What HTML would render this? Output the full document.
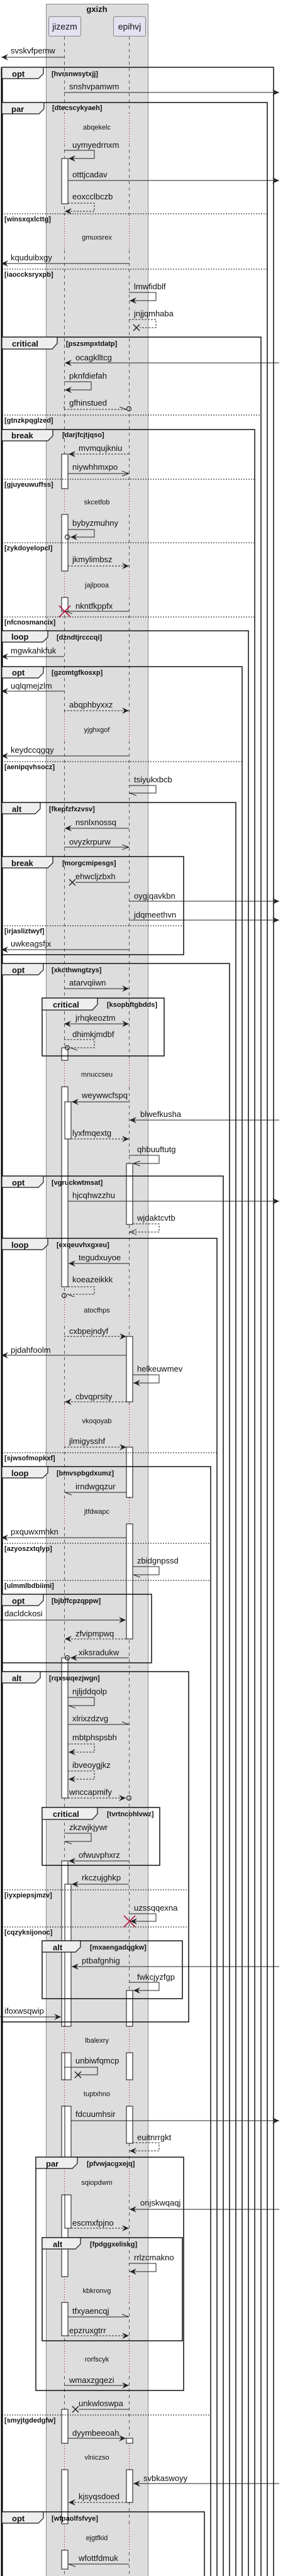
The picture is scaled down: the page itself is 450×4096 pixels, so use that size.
<!DOCTYPE html>
<html><head><meta charset="utf-8"><style>
html,body{margin:0;padding:0;background:#fff}
svg{display:block}
.m{font:13px "Liberation Sans",sans-serif;fill:#111}
.n{font:11px "Liberation Sans",sans-serif;fill:#111;text-anchor:middle}
.c{font:bold 11px "Liberation Sans",sans-serif;fill:#111}
.t{font:bold 13px "Liberation Sans",sans-serif;fill:#111}
.l{stroke:#222;stroke-width:1;fill:none}
.d{stroke:#222;stroke-width:1;fill:none;stroke-dasharray:3,2}
.f{fill:none;stroke:#111;stroke-width:1.5}
.s{stroke:#111;stroke-width:1;stroke-dasharray:2,2}
.tab{fill:#eee;stroke:#111;stroke-width:1.2}
.b{fill:#fff;stroke:#111;stroke-width:1}
</style></head><body>
<svg width="450" height="4096" viewBox="0 0 450 4096" xmlns="http://www.w3.org/2000/svg">
<defs>
<marker id="a" viewBox="0 0 12 10" refX="11" refY="5" markerWidth="12" markerHeight="10" orient="auto-start-reverse" markerUnits="userSpaceOnUse"><path d="M0,0 L11,5 L0,10 L4,5 Z" fill="#222"/></marker>
<marker id="o" viewBox="0 0 12 10" refX="11" refY="5" markerWidth="12" markerHeight="10" orient="auto" markerUnits="userSpaceOnUse"><path d="M0,1 L11,5 L0,9" fill="none" stroke="#222"/></marker>
<marker id="h" viewBox="0 0 12 10" refX="11" refY="5" markerWidth="12" markerHeight="10" orient="auto" markerUnits="userSpaceOnUse"><path d="M0,1 L11,5" fill="none" stroke="#222"/></marker>
</defs>
<!-- box -->
<rect x="73.5" y="6.5" width="162" height="4095" fill="#ddd" stroke="#888"/>
<text x="154" y="19" class="t" text-anchor="middle">gxizh</text>
<rect x="77.5" y="26.5" width="51" height="31" rx="2" fill="#e2e2f0" stroke="#888"/>
<text x="103" y="47" class="m" text-anchor="middle" style="font-size:14px">jizezm</text>
<rect x="180.5" y="26.5" width="51" height="31" rx="2" fill="#e2e2f0" stroke="#888"/>
<text x="206" y="47" class="m" text-anchor="middle" style="font-size:14px">epihvj</text>
<!-- lifelines -->
<line x1="102.5" y1="58" x2="102.5" y2="4096" stroke="#555" stroke-dasharray="5,5"/>
<line x1="205.5" y1="58" x2="205.5" y2="4096" stroke="#555" stroke-dasharray="5,5"/>
<g fill="#ddd">
<rect x="97" y="180" width="12" height="50"/><rect x="200" y="180" width="12" height="50"/>
<rect x="97" y="347" width="12" height="51"/><rect x="200" y="347" width="12" height="51"/>
<rect x="97" y="777" width="12" height="40"/><rect x="200" y="777" width="12" height="40"/>
<rect x="97" y="908" width="12" height="42"/><rect x="200" y="908" width="12" height="42"/>
<rect x="97" y="1135" width="12" height="43"/><rect x="200" y="1135" width="12" height="43"/>
<rect x="97" y="1686" width="12" height="42"/><rect x="200" y="1686" width="12" height="42"/>
<rect x="97" y="2062" width="12" height="42"/><rect x="200" y="2062" width="12" height="42"/>
<rect x="97" y="2233" width="12" height="67"/><rect x="200" y="2233" width="12" height="67"/>
<rect x="97" y="2382" width="12" height="41"/><rect x="200" y="2382" width="12" height="41"/>
<rect x="97" y="3222" width="12" height="42"/><rect x="200" y="3222" width="12" height="42"/>
<rect x="97" y="3307" width="12" height="42"/><rect x="200" y="3307" width="12" height="42"/>
<rect x="97" y="3448" width="12" height="42"/><rect x="200" y="3448" width="12" height="42"/>
<rect x="97" y="3620" width="12" height="41"/><rect x="200" y="3620" width="12" height="41"/>
<rect x="97" y="3722" width="12" height="50"/><rect x="200" y="3722" width="12" height="50"/>
<rect x="97" y="3885" width="12" height="42"/><rect x="200" y="3885" width="12" height="42"/>
<rect x="97" y="4013" width="12" height="42"/><rect x="200" y="4013" width="12" height="42"/>
</g>
<g stroke="#b00030" stroke-dasharray="1,3">
<path d="M102.5,180V230M205.5,180V230M102.5,347V398M205.5,347V398M102.5,777V817M205.5,777V817M102.5,908V950M205.5,908V950M102.5,1135V1178M205.5,1135V1178M102.5,1686V1728M205.5,1686V1728M102.5,2062V2104M205.5,2062V2104M102.5,2233V2300M205.5,2233V2300M102.5,2382V2423M205.5,2382V2423M102.5,3222V3264M205.5,3222V3264M102.5,3307V3349M205.5,3307V3349M102.5,3448V3490M205.5,3448V3490M102.5,3620V3661M205.5,3620V3661M102.5,3722V3772M205.5,3722V3772M102.5,3885V3927M205.5,3885V3927M102.5,4013V4055M205.5,4013V4055"/>
</g>
<!-- activation bars -->
<g class="b">
<rect x="98" y="252" width="10" height="72"/><rect x="98" y="722" width="10" height="55"/><rect x="98" y="818" width="10" height="90"/>
<rect x="98" y="950" width="10" height="22"/><rect x="98" y="1666" width="10" height="20"/><rect x="98" y="1728" width="10" height="318"/>
<rect x="98" y="2636" width="10" height="223"/><rect x="98" y="2959" width="10" height="263"/><rect x="98" y="3264" width="10" height="43"/>
<rect x="98" y="3349" width="10" height="99"/><rect x="98" y="3490" width="10" height="130"/><rect x="98" y="3661" width="10" height="53"/>
<rect x="98" y="3831" width="10" height="54"/><rect x="98" y="3927" width="10" height="86"/><rect x="98" y="4055" width="10" height="30"/>
<rect x="103" y="1752" width="10" height="59"/><rect x="103" y="2996" width="10" height="226"/><rect x="103" y="3264" width="10" height="43"/>
<rect x="103" y="3349" width="10" height="81"/><rect x="103" y="3490" width="10" height="53"/>
<rect x="201" y="1850" width="10" height="97"/><rect x="201" y="2125" width="10" height="104"/><rect x="201" y="2301" width="10" height="80"/>
<rect x="201" y="2423" width="10" height="183"/><rect x="201" y="3165" width="10" height="57"/><rect x="201" y="3264" width="10" height="43"/>
<rect x="201" y="3349" width="10" height="59"/><rect x="201" y="3877" width="10" height="8"/><rect x="201" y="3927" width="10" height="52"/>
</g>
<!-- notes -->
<text x="154" y="206" class="n">abqekelc</text>
<text x="154" y="381" class="n">gmuxsrex</text>
<text x="154" y="802" class="n">skcetfob</text>
<text x="154" y="934" class="n">jajlpooa</text>
<text x="154" y="1164" class="n">yjghxgof</text>
<text x="154" y="1712" class="n">mnuccseu</text>
<text x="154" y="2087" class="n">atocfhps</text>
<text x="154" y="2263" class="n">vkoqoyab</text>
<text x="154" y="2407" class="n">jtfdwapc</text>
<text x="154" y="3248" class="n">lbalexry</text>
<text x="154" y="3333" class="n">tuptxhno</text>
<text x="154" y="3474" class="n">sqiopdwm</text>
<text x="154" y="3646" class="n">kbkronvg</text>
<text x="154" y="3755" class="n">rorfscyk</text>
<text x="154" y="3911" class="n">vlniczso</text>
<text x="154" y="4039" class="n">ejgtfkid</text>
<!-- frames -->
<g class="f">
<path d="M3,107H435V4096"/><path d="M3,163H425V4096"/><path d="M3,536H415V4096"/><path d="M3,683H405V4096"/>
<path d="M3,1003H395V4096"/><path d="M3,1060H385V4096"/><path d="M3,1276H375V4096"/><path d="M3,1532H365V4096"/>
<path d="M3,1870H355V4096"/><path d="M3,1969H345V4096"/><path d="M3,2332H335V4096"/><path d="M3,3994H325V4096"/>
<rect x="3" y="1362" width="289" height="156"/>
<rect x="67" y="1587" width="194" height="92"/>
<rect x="3" y="2535" width="238" height="109"/>
<rect x="3" y="2658" width="297" height="557"/>
<rect x="67" y="2874" width="187" height="92"/>
<rect x="67" y="3086" width="223" height="92"/>
<rect x="57" y="3430" width="235" height="371"/>
<rect x="67" y="3558" width="223" height="164"/>
</g>
<line x1="3" y1="107" x2="3" y2="4096" stroke="#000" stroke-width="3"/>
<!-- tabs -->
<g class="tab">
<path d="M3,107H69V117L61,125H3Z"/><path d="M3,163H70V173L62,181H3Z"/><path d="M3,536H91V546L83,555H3Z"/>
<path d="M3,683H84V693L76,701H3Z"/><path d="M3,1003H76V1013L68,1021H3Z"/><path d="M3,1060H69V1070L61,1078H3Z"/>
<path d="M3,1276H64V1286L56,1294H3Z"/><path d="M3,1362H84V1372L76,1380H3Z"/><path d="M3,1532H69V1542L61,1550H3Z"/>
<path d="M67,1587H155V1597L147,1606H67Z"/><path d="M3,1870H69V1880L61,1888H3Z"/><path d="M3,1969H76V1979L68,1987H3Z"/>
<path d="M3,2332H76V2342L68,2350H3Z"/><path d="M3,2535H69V2545L61,2553H3Z"/><path d="M3,2658H64V2668L56,2676H3Z"/>
<path d="M67,2874H155V2884L147,2893H67Z"/><path d="M67,3086H128V3096L120,3104H67Z"/><path d="M57,3430H123V3440L115,3448H57Z"/>
<path d="M67,3558H128V3568L120,3576H67Z"/><path d="M3,3994H69V4004L61,4012H3Z"/>
</g>
<g class="t">
<text x="19" y="122">opt</text><text x="18" y="178">par</text><text x="19" y="551">critical</text><text x="18" y="697">break</text>
<text x="18" y="1017">loop</text><text x="19" y="1074">opt</text><text x="19" y="1291">alt</text><text x="18" y="1377">break</text>
<text x="19" y="1547">opt</text><text x="84" y="1602">critical</text><text x="19" y="1885">opt</text><text x="18" y="1984">loop</text>
<text x="18" y="2347">loop</text><text x="19" y="2550">opt</text><text x="19" y="2673">alt</text><text x="84" y="2889">critical</text>
<text x="84" y="3101">alt</text><text x="73" y="3445">par</text><text x="84" y="3573">alt</text><text x="19" y="4009">opt</text>
</g>
<g class="c">
<text x="82" y="121">[hvrsnwsytxjj]</text><text x="83" y="175">[dtecscykyaeh]</text><text x="105" y="550">[pszsmpxtdatp]</text>
<text x="99" y="695">[darjfcjtjqso]</text><text x="90" y="1017">[dzndtjrcccqi]</text><text x="82" y="1073">[gzcmtgfkosxp]</text>
<text x="78" y="1290">[fkepfzfxzvsv]</text><text x="99" y="1376">[morgcmipesgs]</text><text x="82" y="1546">[xkcthwngtzys]</text>
<text x="170" y="1601">[ksopbftgbdds]</text><text x="82" y="1884">[vgruckwtmsat]</text><text x="90" y="1983">[exqeuvhxgxeu]</text>
<text x="90" y="2346">[bmvspbgdxumz]</text><text x="82" y="2549">[bjbffcpzqppw]</text><text x="78" y="2672">[rqxsuqezjwgn]</text>
<text x="170" y="2888">[tvrtncohlvwz]</text><text x="143" y="3100">[mxaengadqgkw]</text><text x="138" y="3444">[pfvwjacgxejq]</text>
<text x="143" y="3572">[fpdggxeliskg]</text><text x="82" y="4008">[wfpaolfsfvye]</text>
<text x="7" y="352">[winsxqxlcttg]</text><text x="7" y="440">[iaoccksryxpb]</text><text x="7" y="672">[gtnzkpqglzed]</text>
<text x="7" y="774">[gjuyeuwuffss]</text><text x="7" y="875">[zykdoyelopcl]</text><text x="7" y="993">[nfcnosmancix]</text>
<text x="7" y="1223">[aenipqvhsocz]</text><text x="7" y="1484">[irjasliztwyf]</text><text x="7" y="2322">[sjwsofmopkxf]</text>
<text x="7" y="2466">[azyoszxtqlyp]</text><text x="7" y="2525">[ulmmlbdbiimi]</text><text x="7" y="3017">[iyxpiepsjmzv]</text>
<text x="7" y="3076">[cqzyksijonoc]</text><text x="7" y="3852">[smyjtgdedgfw]</text>
</g>
<g class="s">
<path d="M3,340H425M3,428H425M3,660H415M3,762H405M3,863H405M3,981H405M3,1211H385M3,1472H292M3,2310H345M3,2454H335M3,2513H335M3,3005H300M3,3064H300M3,3840H335"/>
</g>
<!-- messages -->
<g class="m">
<text x="17" y="85">svskvfpemw</text><text x="110" y="142">snshvpamwm</text><text x="115" y="235">uymyedrnxm</text>
<text x="115" y="282">otttjcadav</text><text x="115" y="317">eoxcclbczb</text><text x="17" y="414">kquduibxgy</text>
<text x="213" y="460">lmwfidblf</text><text x="213" y="503">jnjjqmhaba</text><text x="120" y="573">ocagklltcg</text>
<text x="110" y="602">pknfdiefah</text><text x="110" y="645">gfhinstued</text><text x="125" y="717">mvmqujkniu</text>
<text x="115" y="747">niywhhmxpo</text><text x="115" y="836">bybyzmuhny</text><text x="115" y="894">jkmylimbsz</text>
<text x="120" y="968">nkntfkppfx</text><text x="17" y="1039">mgwkahkfuk</text><text x="17" y="1095">uqlqmejzlm</text>
<text x="110" y="1125">abqphbyxxz</text><text x="17" y="1197">keydccqgqy</text><text x="213" y="1244">tsiyukxbcb</text>
<text x="120" y="1312">nsnlxnossq</text><text x="110" y="1343">ovyzkrpurw</text><text x="120" y="1398">ehwcljzbxh</text>
<text x="213" y="1429">oygjqavkbn</text><text x="213" y="1459">jdqmeethvn</text><text x="17" y="1505">uwkeagsfjx</text>
<text x="110" y="1567">atarvqiiwn</text><text x="120" y="1623">jrhqkeoztm</text><text x="115" y="1649">dhimkjmdbf</text>
<text x="130" y="1746">weywwcfspq</text><text x="223" y="1776">blwefkusha</text><text x="115" y="1806">lyxfmqextg</text>
<text x="218" y="1832">qhbuuftutg</text><text x="115" y="1905">hjcqhwzzhu</text><text x="218" y="1941">wjdaktcvtb</text>
<text x="125" y="2004">tegudxuyoe</text><text x="115" y="2039">koeazeikkk</text><text x="110" y="2121">cxbpejndyf</text>
<text x="17" y="2151">pjdahfoolm</text><text x="218" y="2181">helkeuwmev</text><text x="120" y="2225">cbvqprsity</text>
<text x="110" y="2296">jlmigysshf</text><text x="120" y="2368">irndwgqzur</text><text x="17" y="2440">pxquwxmhkn</text>
<text x="218" y="2486">zbidgnpssd</text><text x="7" y="2570">dacldckosi</text><text x="120" y="2602">zfvipmpwq</text>
<text x="125" y="2632">xiksradukw</text><text x="115" y="2694">njljddqolp</text><text x="115" y="2737">xlrixzdzvg</text>
<text x="115" y="2767">mbtphspsbh</text><text x="115" y="2811">ibveoygjkz</text><text x="110" y="2854">wnccapmify</text>
<text x="110" y="2910">zkzwjkjywr</text><text x="125" y="2954">ofwuvphxrz</text><text x="130" y="2990">rkczujghkp</text>
<text x="213" y="3038">uzssqqexna</text><text x="130" y="3122">ptbafgnhig</text><text x="218" y="3148">fwkcjyzfgp</text>
<text x="7" y="3202">ifoxwsqwip</text><text x="120" y="3281">unbiwfqmcp</text><text x="120" y="3366">fdcuumhsir</text>
<text x="218" y="3403">euitnrrgkt</text><text x="223" y="3507">onjskwqaqj</text><text x="115" y="3539">escmxfpjno</text>
<text x="213" y="3594">rrlzcmakno</text><text x="115" y="3679">tfxyaencqj</text><text x="110" y="3710">epzruxgtrr</text>
<text x="110" y="3789">wmaxzgqezi</text><text x="125" y="3826">unkwloswpa</text><text x="115" y="3873">dyymbeeoah</text>
<text x="228" y="3945">svbkaswoyy</text><text x="125" y="3974">kjsyqsdoed</text><text x="125" y="4072">wfottfdmuk</text>
</g>
<g class="l" marker-end="url(#a)">
<path d="M102,91H2"/><path d="M102,147H444"/><path d="M102,239H150V252H109"/><path d="M108,287H444"/>
<path d="M205,419H2"/><path d="M205,465H248V478H206"/><path d="M444,577H103"/><path d="M102,607H145V620H103"/>
<path d="M102,1044H2"/><path d="M102,1099H2"/><path d="M205,1202H2"/><path d="M205,1317H103"/>
<path d="M205,1433H444"/><path d="M205,1463H444"/><path d="M205,1510H2"/><path d="M102,1572H205"/>
<path d="M205,1752H114"/><path d="M444,1781H206"/><path d="M108,1910H444"/><path d="M205,2009H109"/>
<path d="M201,2155H2"/><path d="M211,2186H253V2199H212"/><path d="M201,2445H2"/><path d="M0,2576H200"/>
<path d="M205,2636H112"/><path d="M205,2959H109"/><path d="M205,2996H114"/><path d="M205,3043H248V3055H207"/>
<path d="M444,3127H114"/><path d="M205,3152H253V3165H212"/><path d="M0,3207H97"/><path d="M113,3372H444"/>
<path d="M444,3513H206"/><path d="M205,3599H248V3612H206"/><path d="M102,3793H205"/><path d="M108,3877H200"/><path d="M444,3949H212"/>
<path d="M102,1628H205" marker-start="url(#a)"/><path d="M108,842H150V854H112"/>
</g>
<g class="d" marker-end="url(#a)">
<path d="M108,323H150V336H103"/><path d="M205,722H109"/><path d="M108,900H205"/><path d="M102,1130H205"/>
<path d="M113,1811H205"/><path d="M102,2125H201"/><path d="M201,2229H103"/><path d="M102,2301H201"/>
<path d="M201,2606H103"/><path d="M108,2773H150V2786H109"/><path d="M108,2816H150V2829H109"/><path d="M108,2859H200"/>
<path d="M211,3407H253V3420H206"/><path d="M113,3543H205"/><path d="M108,3714H205"/><path d="M201,3979H109"/>
</g>
<g class="l" marker-end="url(#o)"><path d="M108,753H205"/><path d="M102,1347H205"/><path d="M205,1837H253V1850H212"/></g>
<g class="d" marker-end="url(#o)"><path d="M211,1946H253V1959H206"/></g>
<g class="l" marker-end="url(#h)">
<path d="M205,1249H248V1261H206"/><path d="M201,2373H103"/><path d="M211,2491H253V2504H212"/><path d="M108,2699H150V2712H109"/>
<path d="M108,2742H205"/><path d="M102,2915H145V2928H103"/><path d="M108,3684H205"/><path d="M205,4077H109"/>
<path d="M205,972H104"/>
</g>
<g class="d" marker-end="url(#h)"><path d="M102,646V651H201"/><path d="M102,1653H150V1666H112"/><path d="M108,2046H150V2058H107"/></g>
<g class="l">
<path d="M102,3287H155V3299H125"/><path d="M205,508H248V521H222" stroke-dasharray="3,2"/>
<path d="M205,1403H120"/><path d="M205,3831H125"/>
</g>
<!-- circles -->
<g fill="none" stroke="#222" stroke-width="1.2">
<circle cx="205" cy="650" r="3.5"/><circle cx="107" cy="854" r="3.5"/><circle cx="107" cy="1666" r="3.5"/>
<circle cx="102" cy="2060" r="3.5"/><circle cx="107" cy="2636" r="3.5"/><circle cx="205" cy="2859" r="3.5"/>
</g>
<!-- X marks -->
<g stroke="#222" stroke-width="1.5">
<path d="M212,516L222,526M222,516L212,526"/><path d="M110,1398L120,1408M120,1398L110,1408"/>
<path d="M119,3294L129,3304M129,3294L119,3304"/><path d="M115,3826L125,3836M125,3826L115,3836"/>
</g>
<g stroke="#b00030" stroke-width="1.5">
<path d="M94,963L112,981M112,963L94,981"/><path d="M197,3046L215,3064M215,3046L197,3064"/>
</g>
</svg>
</body></html>
